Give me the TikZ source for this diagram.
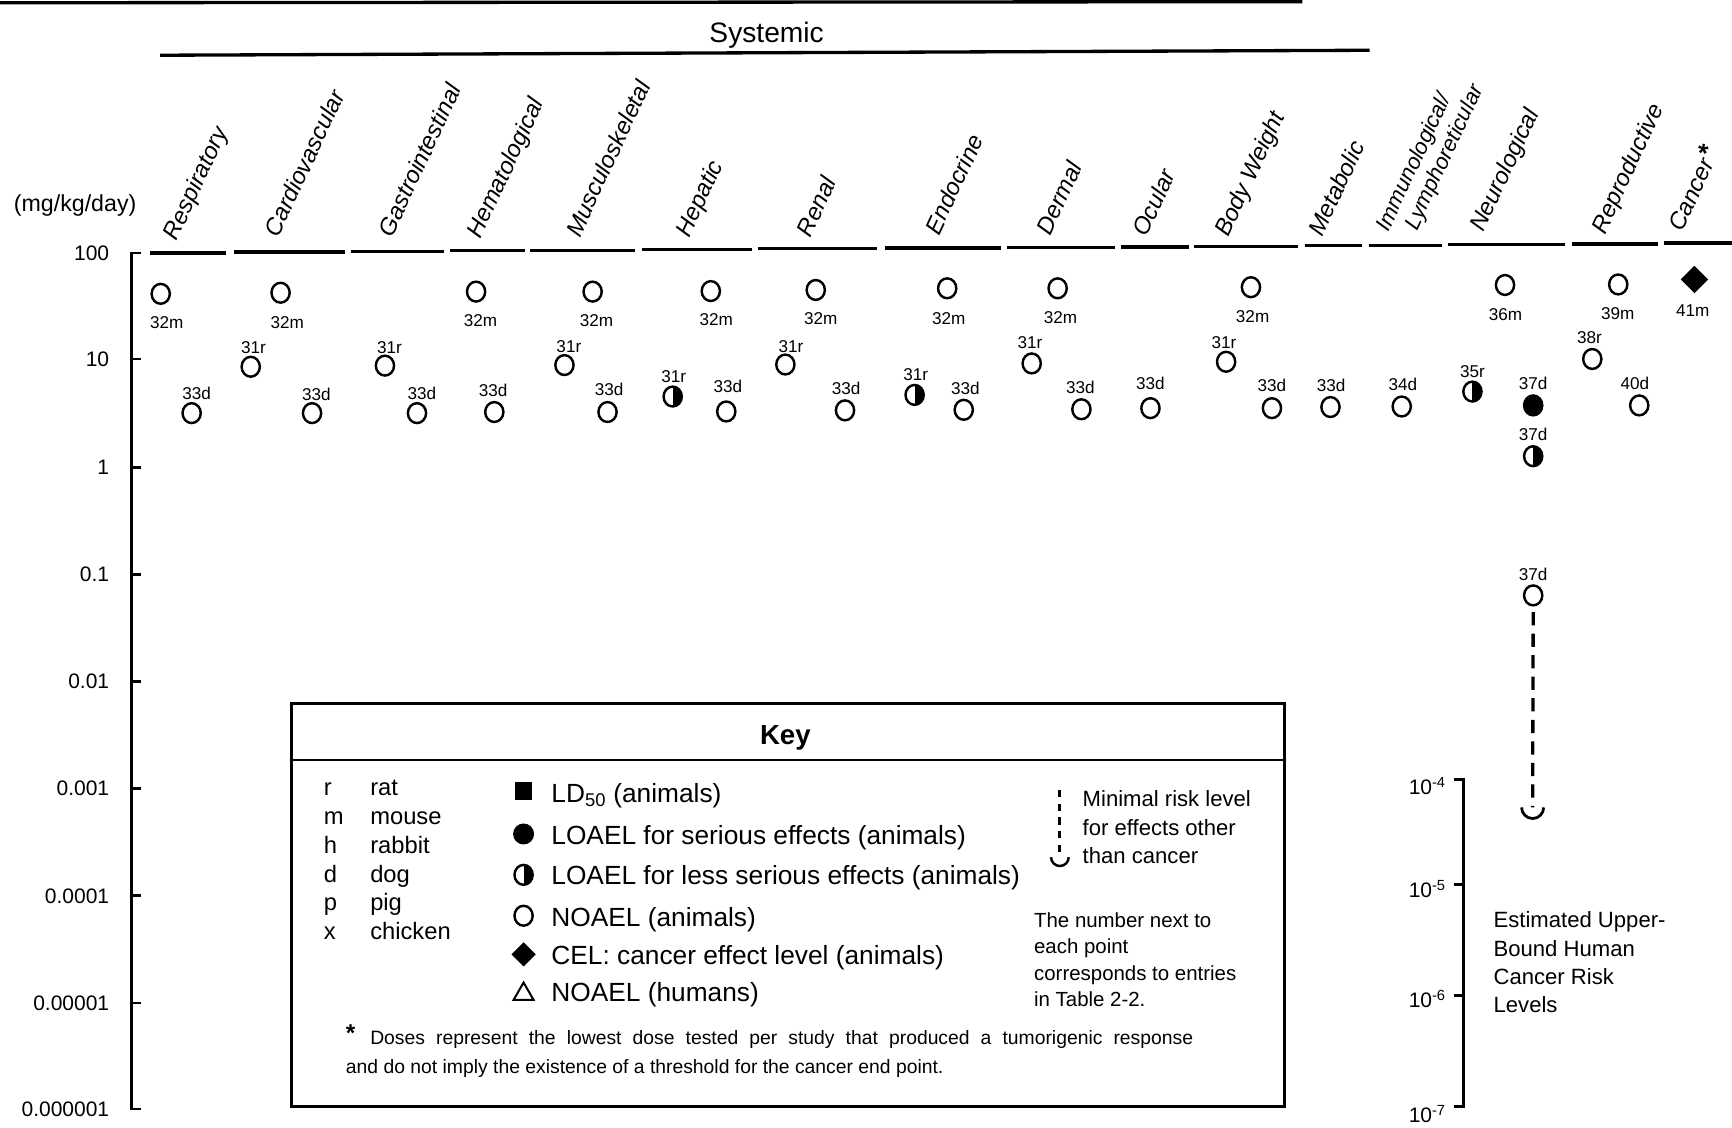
\documentclass[tikz,border=0pt]{standalone}
\usepackage{fontspec}
\setmainfont{Liberation Sans}
\usetikzlibrary{shapes.geometric}
\begin{document}
\begin{tikzpicture}[x=1pt,y=-1pt,
  lab/.style={inner sep=0pt, font=\fontsize{15.5}{16}\selectfont},
  noael/.style={ellipse, draw, line width=2.2pt, minimum width=16.5pt, minimum height=18pt, inner sep=0pt},
  serious/.style={noael, fill=black},
  lessser/.style={noael, path picture={\fill (path picture bounding box.north) rectangle (path picture bounding box.south east);}},
  cel/.style={diamond, fill=black, minimum width=25pt, minimum height=25pt, inner sep=0pt},
  cat/.style={rotate=65, anchor=base west, inner sep=0pt, font=\fontsize{21.5}{22}\selectfont\itshape},
  catsm/.style={cat, font=\fontsize{20}{21}\selectfont\itshape},
  ticklab/.style={anchor=east, inner sep=0pt, font=\fontsize{19}{20}\selectfont},
  risklab/.style={anchor=base east, inner sep=0pt, font=\fontsize{19}{20}\selectfont},
  seg/.style={line width=3pt},
  axisline/.style={line width=2.5pt},
  keytxt/.style={anchor=base west, inner sep=0pt, font=\fontsize{23.8}{24}\selectfont},
  sptxt/.style={anchor=base west, inner sep=0pt, font=\fontsize{21.5}{22}\selectfont},
  mrltxt/.style={anchor=base west, inner sep=0pt, font=\fontsize{20}{21}\selectfont},
  numtxt/.style={anchor=base west, inner sep=0pt, font=\fontsize{18.5}{19}\selectfont},
  foot/.style={anchor=base west, inner sep=0pt, font=\fontsize{17.5}{18}\selectfont},
  mrl/.style={dash pattern=on 12pt off 7.5pt, line width=3pt},
  mrlkey/.style={dash pattern=on 6.5pt off 6pt, line width=2.5pt},
]
\useasboundingbox (0,0) rectangle (1568,1021);

% top rules and Systemic heading
\draw[line width=3pt] (0,2.5) -- (1179,1.5);
\node[font=\fontsize{25.5}{26}\selectfont, inner sep=0pt] (sys) at (694,32) {Systemic};
\draw[line width=3pt] (145,50) -- (1240,45.5);
\node[font=\fontsize{21}{22}\selectfont, inner sep=0pt] (unit) at (68,186) {(mg/kg/day)};

% category labels
\node[cat] (c1) at (160,219) {Respiratory};
\node[cat] (c2) at (252,216) {Cardiovascular};
\node[cat] (c3) at (355,216) {Gastrointestinal};
\node[cat] (c4) at (435,217) {Hematological};
\node[cat] (c5) at (525,216) {Musculoskeletal};
\node[cat] (c6) at (624,216) {Hepatic};
\node[cat] (c7) at (734,216) {Renal};
\node[cat] (c8) at (850,214) {Endocrine};
\node[cat] (c9) at (951,214) {Dermal};
\node[cat] (c10) at (1038,215.5) {Ocular};
\node[cat] (c11) at (1112,215.5) {Body Weight};
\node[cat] (c12) at (1197,215.5) {Metabolic};
\node[catsm] (c13) at (1257,211) {Immunological/};
\node[catsm] (c14) at (1283,209.5) {Lymphoreticular};
\node[cat] (c15) at (1343,211) {Neurological};
\node[cat] (c16) at (1453,213) {Reproductive};
\node[cat] (c17) at (1523,211) {Cancer\kern0.12em\raisebox{0.12em}{\upshape\bfseries\fontsize{24}{24}\selectfont *}};

% header segments
\foreach \a/\b/\c in {136/205/229, 212/312/228, 318/402/227.5, 407/475/227, 480/575/226.5,
  581/681/226, 686/794/225, 801/906/224.5, 912/1009/224, 1015/1076/223.5, 1081/1175/223,
  1181/1233/222.5, 1239/1305/222, 1311/1417/221.5, 1423/1501/221, 1506/1568/220}
  \draw[seg] (\a,\c) -- (\b,\c);

% left axis
\draw[axisline] (128,229) -- (119,229) -- (119,1004) -- (128,1004);
\foreach \yy in {325,423,520,617,714,811,908} \draw[axisline] (119,\yy) -- (128,\yy);
\foreach \yy/\t [count=\i] in {229/100, 325/10, 423/1, 520/0.1, 617/0.01, 714/0.001,
  811/0.0001, 908/0.00001, 1004/0.000001}
  \node[ticklab] (t\i) at (99,\yy) {\t};

% data points
\foreach \px/\py/\lx/\ly/\t/\s [count=\i] in {
  145.5/266/151/292/32m/noael,
  173.5/374/178/356/33d/noael,
  227/332/229.5/315/31r/noael,
  254/265/260/292/32m/noael,
  282.5/374/286.5/357/33d/noael,
  348.5/331/352.5/315/31r/noael,
  377.5/374/382/356/33d/noael,
  431/264/435/290/32m/noael,
  447.5/373/446.5/353.5/33d/noael,
  511/330.5/515/314/31r/noael,
  536.5/264/540/290/32m/noael,
  550/373/551.5/352.5/33d/noael,
  609/359/610/341/31r/lessser,
  643.5/263.5/648.5/289/32m/noael,
  657.5/372.5/659/350/33d/noael,
  711/330/716/314/31r/noael,
  738.5/262.5/743/288.5/32m/noael,
  765/371.5/766/351.5/33d/noael,
  828/357.5/829/339.5/31r/lessser,
  857.5/261/859/288/32m/noael,
  872.5/371/874/351.5/33d/noael,
  934/329/932.5/310.5/31r/noael,
  957.5/261/960/287.5/32m/noael,
  979/370.5/978/350.5/33d/noael,
  1041.5/369.5/1041.5/347.5/33d/noael,
  1110/327.5/1108/310/31r/noael,
  1132.5/260/1134/286.5/32m/noael,
  1151.5/369.5/1151.5/349/33d/noael,
  1204.5/368.5/1205/349/33d/noael,
  1269/368/1270/348/34d/noael,
  1333/354.5/1333/336/35r/lessser,
  1362.5/258/1363/284.5/36m/noael,
  1388/367/1388/347/37d/serious,
  1388/413/1388/393/37d/lessser,
  1388/539/1388/520/37d/noael,
  1441.5/325/1439/305.5/38r/noael,
  1465/257.5/1464.5/283.5/39m/noael,
  1484/367/1480/347/40d/noael,
  1534/253/1532.5/281.5/41m/cel}
{
  \node[\s] (p\i) at (\px,\py) {};
  \node[lab] (l\i) at (\lx,\ly) {\t};
}

% minimal risk level in the plot
\coordinate (u1) at (1387.5,731);
\draw[mrl] ([yshift=-5pt]p35.south) -- (u1);
\draw[line width=2.5pt] ([xshift=-10pt]u1) arc[start angle=180, end angle=360, radius=10pt];

% cancer risk scale
\draw[axisline] (1316,706) -- (1325,706) -- (1325,1002) -- (1316,1002);
\draw[axisline] (1316,801) -- (1325,801);
\draw[axisline] (1316,901) -- (1325,901);
\node[risklab] (r4) at (1309,719) {10\textsuperscript{-4}};
\node[risklab] (r5) at (1309,812.5) {10\textsuperscript{-5}};
\node[risklab] (r6) at (1309,912) {10\textsuperscript{-6}};
\node[risklab] (r7) at (1309,1016) {10\textsuperscript{-7}};
\node[mrltxt] (e1) at (1352,840) {Estimated Upper-};
\node[mrltxt] (e2) at (1352,865.5) {Bound Human};
\node[mrltxt] (e3) at (1352,891) {Cancer Risk};
\node[mrltxt] (e4) at (1352,917) {Levels};

% key box
\draw[line width=2.5pt] (264,637) rectangle (1163,1002);
\draw[line width=2.5pt] (264,688) -- (1163,688);
\node[font=\fontsize{25}{26}\selectfont\bfseries, inner sep=0pt] (keyt) at (711,668) {Key};

% species
\foreach \yy/\a/\b [count=\i] in {720.5/r/rat, 746.5/m/mouse, 772.5/h/rabbit, 798.5/d/dog, 824.5/p/pig, 850.5/x/chicken}
{
  \node[sptxt] (sa\i) at (293,\yy) {\a};
  \node[sptxt] (sb\i) at (335,\yy) {\b};
}

% key symbols
\node[fill=black, minimum width=16pt, minimum height=16pt, inner sep=0pt] (k1) at (474,716) {};
\node[circle, fill=black, minimum size=19pt, inner sep=0pt] (k2) at (474,755) {};
\node[lessser] (k3) at (474,792) {};
\node[noael] (k4) at (474,829) {};
\node[diamond, fill=black, minimum width=22pt, minimum height=22pt, inner sep=0pt] (k5) at (474,864) {};
\node[regular polygon, regular polygon sides=3, draw, line width=1.8pt, minimum size=21pt, inner sep=0pt] (k6) at (474,900) {};
\node[keytxt] (kt1) at (499,726.5) {LD\textsubscript{50} (animals)};
\node[keytxt] (kt2) at (499,764.5) {LOAEL for serious effects (animals)};
\node[keytxt] (kt3) at (499,800.5) {LOAEL for less serious effects (animals)};
\node[keytxt] (kt4) at (499,838.5) {NOAEL (animals)};
\node[keytxt] (kt5) at (499,873) {CEL: cancer effect level (animals)};
\node[keytxt] (kt6) at (499,906.5) {NOAEL (humans)};

% MRL legend
\coordinate (m0) at (959.5,715);
\coordinate (u2) at (959.5,776);
\draw[mrlkey] (m0) -- (u2);
\draw[line width=2.2pt] ([xshift=-8pt]u2) arc[start angle=180, end angle=360, radius=8pt];
\node[mrltxt] (mt1) at (980,730) {Minimal risk level};
\node[mrltxt] (mt2) at (980,756) {for effects other};
\node[mrltxt] (mt3) at (980,781.5) {than cancer};

\node[numtxt] (nt1) at (936,839.5) {The number next to};
\node[numtxt] (nt2) at (936,863.5) {each point};
\node[numtxt] (nt3) at (936,887.5) {corresponds to entries};
\node[numtxt] (nt4) at (936,911.5) {in Table 2-2.};

% footnote
\node[font=\fontsize{22}{22}\selectfont\bfseries, inner sep=0pt] (ast) at (317.5,935) {*};
\node[foot] (f1) at (335,946) {\makebox[745pt][s]{Doses represent the lowest dose tested per study that produced a tumorigenic response}};
\node[foot] (f2) at (313,972) {and do not imply the existence of a threshold for the cancer end point.};
\end{tikzpicture}
\end{document}
